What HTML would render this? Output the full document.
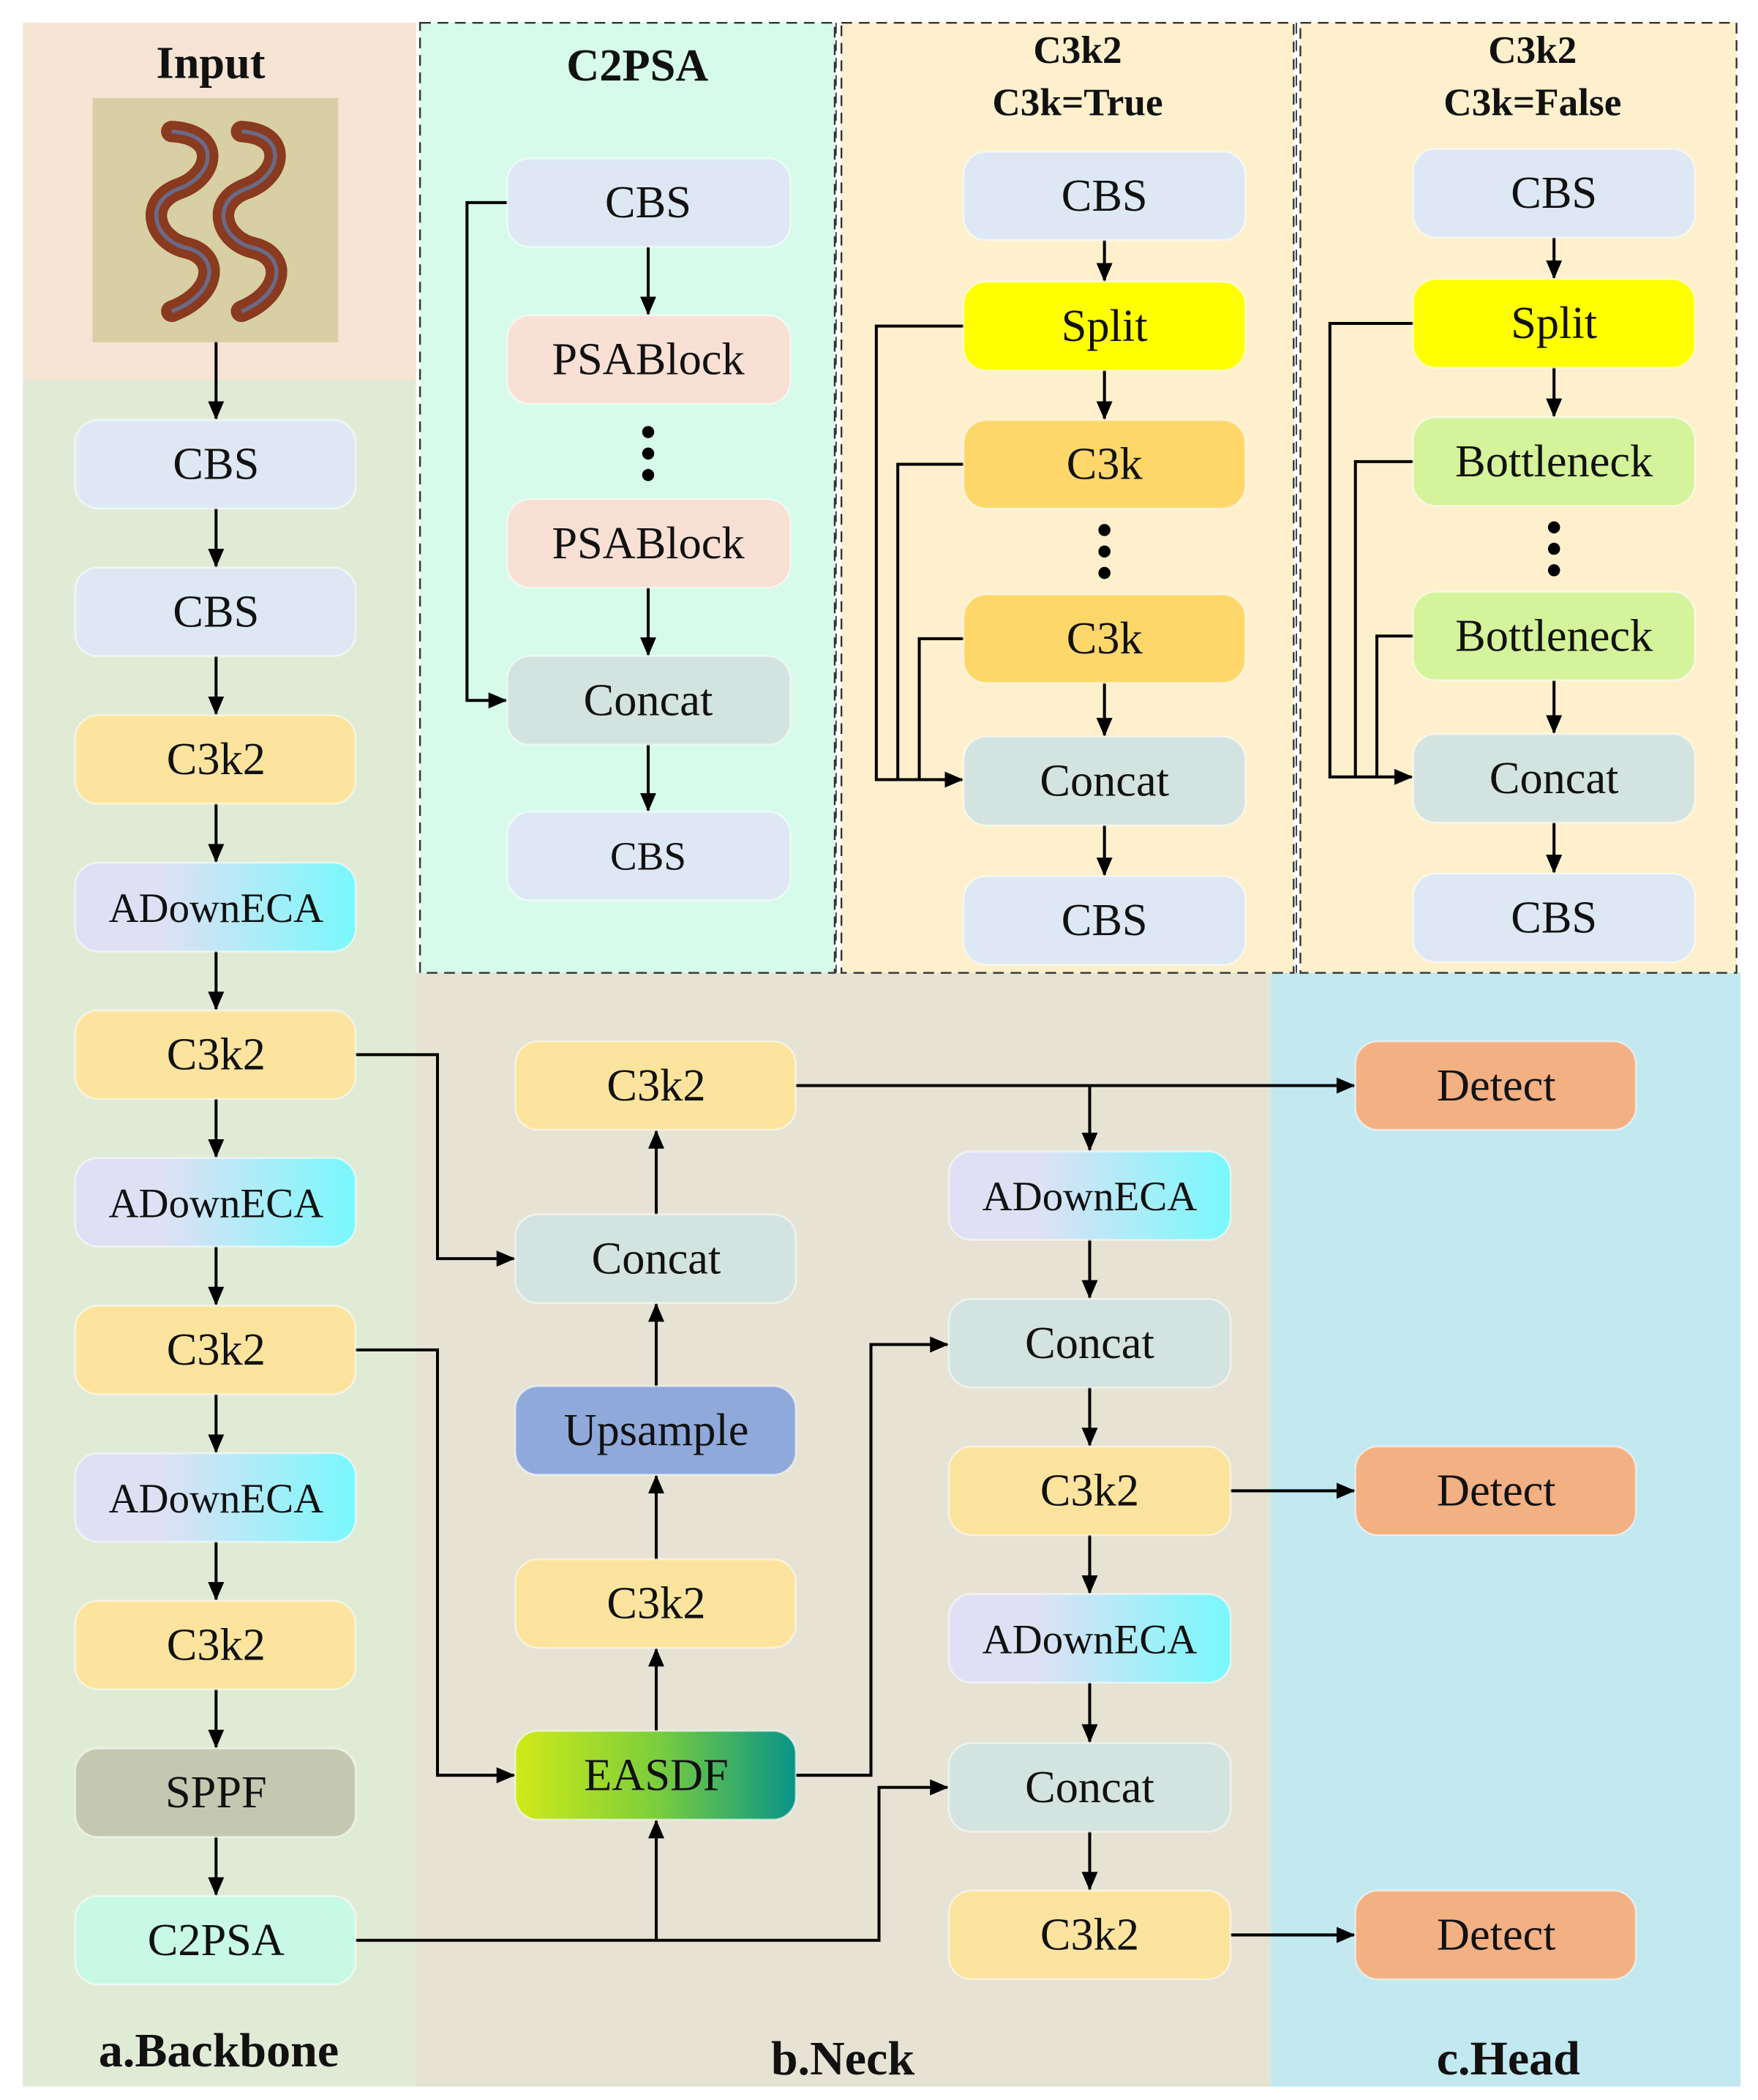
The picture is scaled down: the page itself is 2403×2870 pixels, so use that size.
<!DOCTYPE html>
<html><head><meta charset="utf-8"><style>html,body{margin:0;padding:0;background:#fff}svg{display:block}svg text{font-family:"Liberation Serif","Times New Roman",serif}</style></head><body>
<svg width="2403" height="2870" viewBox="0 0 1310 1565" preserveAspectRatio="none" xmlns="http://www.w3.org/2000/svg">
<defs>
<marker id="a" markerWidth="14" markerHeight="12" refX="13" refY="6" orient="auto" markerUnits="userSpaceOnUse"><path d="M0,0 L14,6 L0,12 z" fill="#000"/></marker>
<linearGradient id="gd" x1="0" y1="0" x2="1" y2="0"><stop offset="0.3" stop-color="#e0e0f4"/><stop offset="1" stop-color="#78f8fc"/></linearGradient>
<linearGradient id="ge" x1="0" y1="0" x2="1" y2="0"><stop offset="0" stop-color="#d0ea18"/><stop offset="0.5" stop-color="#7cce3c"/><stop offset="1" stop-color="#089488"/></linearGradient>
</defs>
<rect width="1310" height="1565" fill="#fff"/>
<rect x="17" y="17" width="293" height="266" fill="#f6e4d4"/>
<rect x="17" y="283" width="293" height="1272" fill="#e0ebd6"/>
<rect x="310" y="725" width="637" height="830" fill="#e6e3d4"/>
<rect x="947" y="725" width="350" height="830" fill="#c2e8f0"/>
<rect x="313" y="17" width="309" height="708" fill="#d6fbea" stroke="#333" stroke-dasharray="8,5" stroke-width="1.3"/>
<rect x="627" y="17" width="337" height="708" fill="#fef0cc" stroke="#333" stroke-dasharray="8,5" stroke-width="1.3"/>
<rect x="969" y="17" width="325" height="708" fill="#fef0cc" stroke="#333" stroke-dasharray="8,5" stroke-width="1.3"/>
<line x1="623" y1="17" x2="623" y2="725" stroke="#333" stroke-dasharray="8,5"/>
<line x1="966" y1="17" x2="966" y2="725" stroke="#333" stroke-dasharray="8,5"/>
<rect x="69" y="73" width="183" height="182" fill="#d8cfa4"/>
<g fill="none" stroke="#8a3a1e" stroke-width="16" stroke-linecap="round">
<path d="M128,98 C165,100 160,130 135,140 C105,150 115,180 140,185 C165,192 160,220 128,232"/>
<path d="M180,98 C215,100 210,130 185,140 C155,150 165,180 190,185 C215,192 210,220 180,232"/>
</g>
<g fill="none" stroke="#6a6a88" stroke-width="3"><path d="M128,98 C165,100 160,130 135,140 C105,150 115,180 140,185 C165,192 160,220 128,232"/><path d="M180,98 C215,100 210,130 185,140 C155,150 165,180 190,185 C215,192 210,220 180,232"/></g>
<g font-weight="bold" font-size="34" text-anchor="middle" fill="#111">
<text x="157" y="58">Input</text>
<text x="475" y="60">C2PSA</text>
<text x="803" y="47" font-size="29">C3k2</text><text x="803" y="86" font-size="29">C3k=True</text>
<text x="1142" y="47" font-size="29">C3k2</text><text x="1142" y="86" font-size="29">C3k=False</text>
<text x="163" y="1540" font-size="36">a.Backbone</text>
<text x="628" y="1546" font-size="36">b.Neck</text>
<text x="1124" y="1546" font-size="36">c.Head</text>
</g>
<g stroke="#000" stroke-width="2.2" fill="none" marker-end="url(#a)">
<line x1="161" y1="255" x2="161" y2="312"/>
<line x1="161" y1="379" x2="161" y2="422"/><line x1="161" y1="489" x2="161" y2="532"/><line x1="161" y1="599" x2="161" y2="642"/><line x1="161" y1="709" x2="161" y2="752"/><line x1="161" y1="819" x2="161" y2="862"/><line x1="161" y1="929" x2="161" y2="972"/><line x1="161" y1="1039" x2="161" y2="1082"/><line x1="161" y1="1149" x2="161" y2="1192"/><line x1="161" y1="1259" x2="161" y2="1302"/><line x1="161" y1="1369" x2="161" y2="1412"/>
<line x1="483" y1="184" x2="483" y2="234"/><line x1="483" y1="438" x2="483" y2="488"/><line x1="483" y1="555" x2="483" y2="604"/>
<polyline points="378,151 348,151 348,522 377,522"/>
<line x1="823" y1="179" x2="823" y2="209"/><line x1="823" y1="276" x2="823" y2="312"/><line x1="823" y1="509" x2="823" y2="548"/><line x1="823" y1="615" x2="823" y2="652"/>
<polyline points="718,243 653,243 653,581 717,581"/>
<polyline points="718,346 669,346 669,581" marker-end="none"/><polyline points="718,476 685,476 685,581" marker-end="none"/>
<line x1="1158" y1="177" x2="1158" y2="207"/><line x1="1158" y1="274" x2="1158" y2="310"/><line x1="1158" y1="507" x2="1158" y2="546"/><line x1="1158" y1="613" x2="1158" y2="650"/>
<polyline points="1053,241 991,241 991,579 1052,579"/>
<polyline points="1053,344 1010,344 1010,579" marker-end="none"/><polyline points="1053,474 1026,474 1026,579" marker-end="none"/>
<polyline points="265,786 326,786 326,938 383,938"/>
<polyline points="265,1006 326,1006 326,1323 383,1323"/>
<polyline points="265,1446 655,1446 655,1332 706,1332"/>
<line x1="489" y1="1446" x2="489" y2="1357"/>
<line x1="489" y1="1290" x2="489" y2="1229"/><line x1="489" y1="1162" x2="489" y2="1100"/><line x1="489" y1="1033" x2="489" y2="972"/><line x1="489" y1="905" x2="489" y2="843"/>
<line x1="593" y1="809" x2="1009" y2="809"/>
<line x1="812" y1="809" x2="812" y2="857"/>
<polyline points="593,1323 649,1323 649,1002 706,1002"/>
<line x1="812" y1="924" x2="812" y2="967"/><line x1="812" y1="1034" x2="812" y2="1077"/><line x1="812" y1="1144" x2="812" y2="1187"/><line x1="812" y1="1254" x2="812" y2="1298"/><line x1="812" y1="1365" x2="812" y2="1408"/>
<line x1="917" y1="1111" x2="1009" y2="1111"/><line x1="917" y1="1442" x2="1009" y2="1442"/>
</g>
<g fill="#000"><circle cx="483" cy="322" r="4.5"/><circle cx="483" cy="338" r="4.5"/><circle cx="483" cy="354" r="4.5"/>
<circle cx="823" cy="395" r="4.5"/><circle cx="823" cy="411" r="4.5"/><circle cx="823" cy="427" r="4.5"/>
<circle cx="1158" cy="393" r="4.5"/><circle cx="1158" cy="409" r="4.5"/><circle cx="1158" cy="425" r="4.5"/></g>
<g stroke="#ffffff" stroke-opacity="0.5" stroke-width="1.5">
<rect x="56" y="313" width="209" height="66" rx="17" fill="#dde8f4"/>
<rect x="56" y="423" width="209" height="66" rx="17" fill="#dde8f4"/>
<rect x="56" y="533" width="209" height="66" rx="17" fill="#fde49e"/>
<rect x="56" y="643" width="209" height="66" rx="17" fill="url(#gd)"/>
<rect x="56" y="753" width="209" height="66" rx="17" fill="#fde49e"/>
<rect x="56" y="863" width="209" height="66" rx="17" fill="url(#gd)"/>
<rect x="56" y="973" width="209" height="66" rx="17" fill="#fde49e"/>
<rect x="56" y="1083" width="209" height="66" rx="17" fill="url(#gd)"/>
<rect x="56" y="1193" width="209" height="66" rx="17" fill="#fde49e"/>
<rect x="56" y="1303" width="209" height="66" rx="17" fill="#c4c8b0"/>
<rect x="56" y="1413" width="209" height="66" rx="17" fill="#c8f8e6"/>
<rect x="378" y="118" width="211" height="66" rx="17" fill="#dde8f4"/>
<rect x="378" y="235" width="211" height="66" rx="17" fill="#f9e0d4"/>
<rect x="378" y="372" width="211" height="66" rx="17" fill="#f9e0d4"/>
<rect x="378" y="489" width="211" height="66" rx="17" fill="#d3e3df"/>
<rect x="378" y="605" width="211" height="66" rx="17" fill="#dde8f4"/>
<rect x="718" y="113" width="210" height="66" rx="17" fill="#dde8f4"/>
<rect x="718" y="210" width="210" height="66" rx="17" fill="#ffff00"/>
<rect x="718" y="313" width="210" height="66" rx="17" fill="#fdd76a"/>
<rect x="718" y="443" width="210" height="66" rx="17" fill="#fdd76a"/>
<rect x="718" y="549" width="210" height="66" rx="17" fill="#d3e3df"/>
<rect x="718" y="653" width="210" height="66" rx="17" fill="#dde8f4"/>
<rect x="1053" y="111" width="210" height="66" rx="17" fill="#dde8f4"/>
<rect x="1053" y="208" width="210" height="66" rx="17" fill="#ffff00"/>
<rect x="1053" y="311" width="210" height="66" rx="17" fill="#d4f39a"/>
<rect x="1053" y="441" width="210" height="66" rx="17" fill="#d4f39a"/>
<rect x="1053" y="547" width="210" height="66" rx="17" fill="#d3e3df"/>
<rect x="1053" y="651" width="210" height="66" rx="17" fill="#dde8f4"/>
<rect x="384" y="776" width="209" height="66" rx="17" fill="#fde49e"/>
<rect x="384" y="905" width="209" height="66" rx="17" fill="#d3e3df"/>
<rect x="384" y="1033" width="209" height="66" rx="17" fill="#8fa9db"/>
<rect x="384" y="1162" width="209" height="66" rx="17" fill="#fde49e"/>
<rect x="384" y="1290" width="209" height="66" rx="17" fill="url(#ge)"/>
<rect x="707" y="858" width="210" height="66" rx="17" fill="url(#gd)"/>
<rect x="707" y="968" width="210" height="66" rx="17" fill="#d3e3df"/>
<rect x="707" y="1078" width="210" height="66" rx="17" fill="#fde49e"/>
<rect x="707" y="1188" width="210" height="66" rx="17" fill="url(#gd)"/>
<rect x="707" y="1299" width="210" height="66" rx="17" fill="#d3e3df"/>
<rect x="707" y="1409" width="210" height="66" rx="17" fill="#fde49e"/>
<rect x="1010" y="776" width="209" height="66" rx="17" fill="#f2b083"/>
<rect x="1010" y="1078" width="209" height="66" rx="17" fill="#f2b083"/>
<rect x="1010" y="1409" width="209" height="66" rx="17" fill="#f2b083"/>
</g>
<g font-size="34" text-anchor="middle" fill="#111">
<text x="161" y="357">CBS</text><text x="161" y="467">CBS</text><text x="161" y="577">C3k2</text><text x="161" y="687" font-size="31">ADownECA</text><text x="161" y="797">C3k2</text><text x="161" y="907" font-size="31">ADownECA</text><text x="161" y="1017">C3k2</text><text x="161" y="1127" font-size="31">ADownECA</text><text x="161" y="1237">C3k2</text><text x="161" y="1347">SPPF</text><text x="161" y="1457">C2PSA</text>
<text x="483" y="162">CBS</text><text x="483" y="279">PSABlock</text><text x="483" y="416">PSABlock</text><text x="483" y="533">Concat</text><text x="483" y="648" font-size="30">CBS</text>
<text x="823" y="157">CBS</text><text x="823" y="254">Split</text><text x="823" y="357">C3k</text><text x="823" y="487">C3k</text><text x="823" y="593">Concat</text><text x="823" y="697">CBS</text>
<text x="1158" y="155">CBS</text><text x="1158" y="252">Split</text><text x="1158" y="355">Bottleneck</text><text x="1158" y="485">Bottleneck</text><text x="1158" y="591">Concat</text><text x="1158" y="695">CBS</text>
<text x="489" y="820">C3k2</text><text x="489" y="949">Concat</text><text x="489" y="1077">Upsample</text><text x="489" y="1206">C3k2</text><text x="489" y="1334">EASDF</text>
<text x="812" y="902" font-size="31">ADownECA</text><text x="812" y="1012">Concat</text><text x="812" y="1122">C3k2</text><text x="812" y="1232" font-size="31">ADownECA</text><text x="812" y="1343">Concat</text><text x="812" y="1453">C3k2</text>
<text x="1115" y="820">Detect</text><text x="1115" y="1122">Detect</text><text x="1115" y="1453">Detect</text>
</g>
</svg>
</body></html>
